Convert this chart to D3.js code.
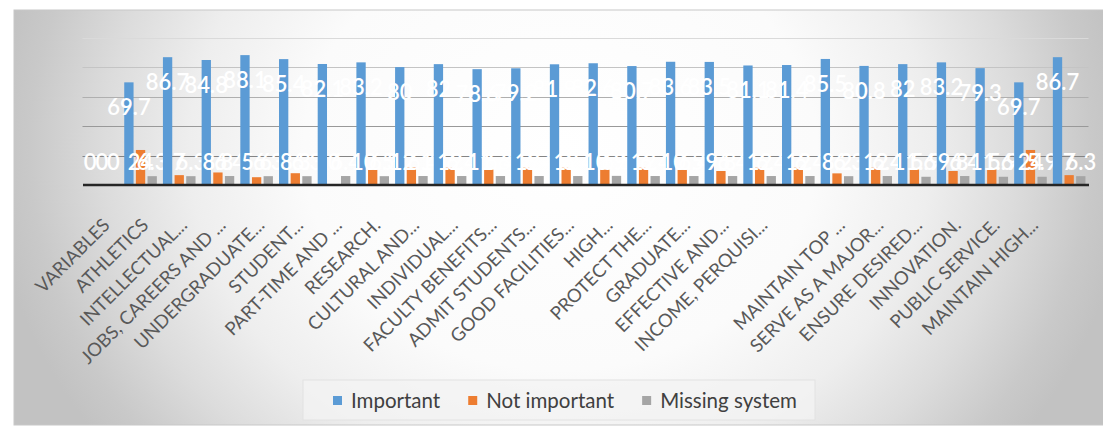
<!DOCTYPE html>
<html>
<head>
<meta charset="utf-8">
<script src="https://cdn.jsdelivr.net/npm/d3@7"></script>
<style>
  html, body { margin: 0; padding: 0; background: #ffffff; }
  svg { display: block; }
  text { font-family: Lato, "Open Sans", "Noto Sans", sans-serif; }
</style>
</head>
<body>
<svg id="chart" width="1103" height="427"></svg>
<script>
// Survey items (category axis)
const categories = [
  "VARIABLES", "ATHLETICS", "INTELLECTUAL...", "JOBS, CAREERS AND ...",
  "UNDERGRADUATE...", "STUDENT...", "PART-TIME AND ...", "RESEARCH.",
  "CULTURAL AND...", "INDIVIDUAL...", "FACULTY BENEFITS...", "ADMIT STUDENTS...",
  "GOOD FACILITIES...", "HIGH...", "PROTECT THE...", "GRADUATE...",
  "EFFECTIVE AND...", "INCOME, PERQUISI...", "", "MAINTAIN TOP ...",
  "SERVE AS A MAJOR...", "ENSURE DESIRED...", "INNOVATION.", "PUBLIC SERVICE.",
  "MAINTAIN HIGH...", ""
];

// Percentages per response
const important = [
  0, 69.7, 86.7, 84.8, 88.1, 85.4, 82.1, 83.2, 80, 82, 78.6, 79.2, 81.9,
  82.6, 80.7, 83.6, 83.5, 81.1, 81.4, 85.5, 80.8, 82, 83.2, 79.3, 69.7, 86.7
];
const notImportant = [
  0, 24, 7, 8.8, 5.6, 8.3, 0, 10.5, 12.1, 12, 11.6, 12, 12,
  10.9, 12, 10.5, 9.8, 12, 12, 8.2, 12, 11.6, 9.8, 11.6, 24, 7
];
const missingSystem = [
  0, 6.3, 6.3, 6.4, 6.3, 6.3, 6.4, 6.3, 6.4, 6.4, 6.4, 6.4, 6.4,
  6.5, 6.4, 6.4, 6.4, 6.4, 6.4, 6.3, 6.4, 5.9, 6.4, 5.9, 5.9, 6.3
];

const seriesNames = ["Important", "Not important", "Missing system"];
const seriesColors = ["#5b9bd5", "#ed7d31", "#a5a5a5"];
const gridTicks = [0, 20, 40, 60, 80, 100];

const seriesValues = [important, notImportant, missingSystem];
const rows = categories.map((c, i) => ({
  key: i,
  label: c,
  values: seriesNames.map((s, k) => ({ series: s, value: seriesValues[k][i] }))
}));

const svg = d3.select("#chart");
const defs = svg.append("defs");

// Chart area fill: soft grey towards the edges, white in the middle
const grad = defs.append("radialGradient")
  .attr("id", "bgGrad")
  .attr("gradientUnits", "userSpaceOnUse")
  .attr("cx", 560).attr("cy", 150).attr("r", 570)
  .attr("gradientTransform", "translate(0,150) scale(1,0.86) translate(0,-150)");
[[0, "#ffffff"], [0.45, "#fbfbfb"], [0.65, "#eeeeee"], [0.8, "#dcdcdc"], [0.93, "#c9c9c9"], [1, "#c2c2c2"]]
  .forEach(([o, c]) => grad.append("stop").attr("offset", o).attr("stop-color", c));

svg.append("rect")
  .attr("x", 14).attr("y", 10)
  .attr("width", 1095).attr("height", 415)
  .attr("fill", "url(#bgGrad)")
  .attr("stroke", "#c8c8c8").attr("stroke-width", 1);

// Scales
const x = d3.scaleBand()
  .domain(rows.map(r => r.key))
  .range([82.5, 1088.5])
  .padding(0);

const xs = d3.scaleBand()
  .domain(seriesNames)
  .range([-16.3, 16.3])
  .paddingInner(0.2);

const y = d3.scaleLinear().domain([0, 100]).range([185.5, 37.5]);
const color = d3.scaleOrdinal().domain(seriesNames).range(seriesColors);
const gridShade = d3.scaleLinear().domain([0, 100]).range(["#6e6e6e", "#dadada"]);

const center = k => x(k) + x.bandwidth() / 2;

// Horizontal gridlines
svg.append("g")
  .selectAll("line")
  .data(gridTicks.filter(t => t > 0))
  .join("line")
  .attr("x1", x.range()[0]).attr("x2", x.range()[1])
  .attr("y1", d => Math.round(y(d)) + 0.5).attr("y2", d => Math.round(y(d)) + 0.5)
  .attr("stroke", d => gridShade(d))
  .attr("stroke-width", 1);

// Bars
const groups = svg.append("g")
  .selectAll("g")
  .data(rows)
  .join("g")
  .attr("transform", d => `translate(${center(d.key)},0)`);

groups.selectAll("rect")
  .data(d => d.values)
  .join("rect")
  .attr("x", d => xs(d.series))
  .attr("width", xs.bandwidth())
  .attr("y", d => y(d.value))
  .attr("height", d => y(0) - y(d.value))
  .attr("fill", d => color(d.series));

// Category axis
const xAxis = d3.axisBottom(x).tickSize(0).tickFormat(k => categories[k]);
const axisG = svg.append("g")
  .attr("transform", `translate(0,${y(0) - 1})`)
  .call(xAxis);
axisG.select(".domain")
  .attr("stroke", "#262626")
  .attr("stroke-width", 2.6);
axisG.selectAll(".tick text")
  .attr("fill", "#595959")
  .attr("font-size", 18.5)
  .attr("text-anchor", "end")
  .attr("transform", "translate(9,42) rotate(-45)")
  .attr("x", 0).attr("y", 0).attr("dy", 0);

// Data labels
const labelY = v => Math.min(y(v) + 25, y(0) - 23);
groups.selectAll("text.val")
  .data(d => d.values)
  .join("text")
  .attr("class", "val")
  .attr("x", d => xs(d.series) + xs.bandwidth() / 2)
  .attr("y", d => labelY(d.value))
  .attr("dy", "0.36em")
  .attr("text-anchor", "middle")
  .attr("fill", "#ffffff")
  .attr("font-size", 22)
  .attr("font-weight", 600)
  .text(d => String(d.value));

// Legend
const legend = svg.append("g");
legend.append("rect")
  .attr("x", 303).attr("y", 380)
  .attr("width", 512).attr("height", 40)
  .attr("fill", "#f3f3f3").attr("fill-opacity", 0.75)
  .attr("stroke", "#e2e2e2");

let lx = 333;
seriesNames.forEach(name => {
  legend.append("rect")
    .attr("x", lx).attr("y", 396)
    .attr("width", 9).attr("height", 9)
    .attr("fill", color(name));
  const t = legend.append("text")
    .attr("x", lx + 18).attr("y", 401)
    .attr("dy", "0.36em")
    .attr("fill", "#404040")
    .attr("font-size", 20.5)
    .text(name);
  lx += 18 + t.node().getComputedTextLength() + 28;
});
</script>
</body>
</html>
